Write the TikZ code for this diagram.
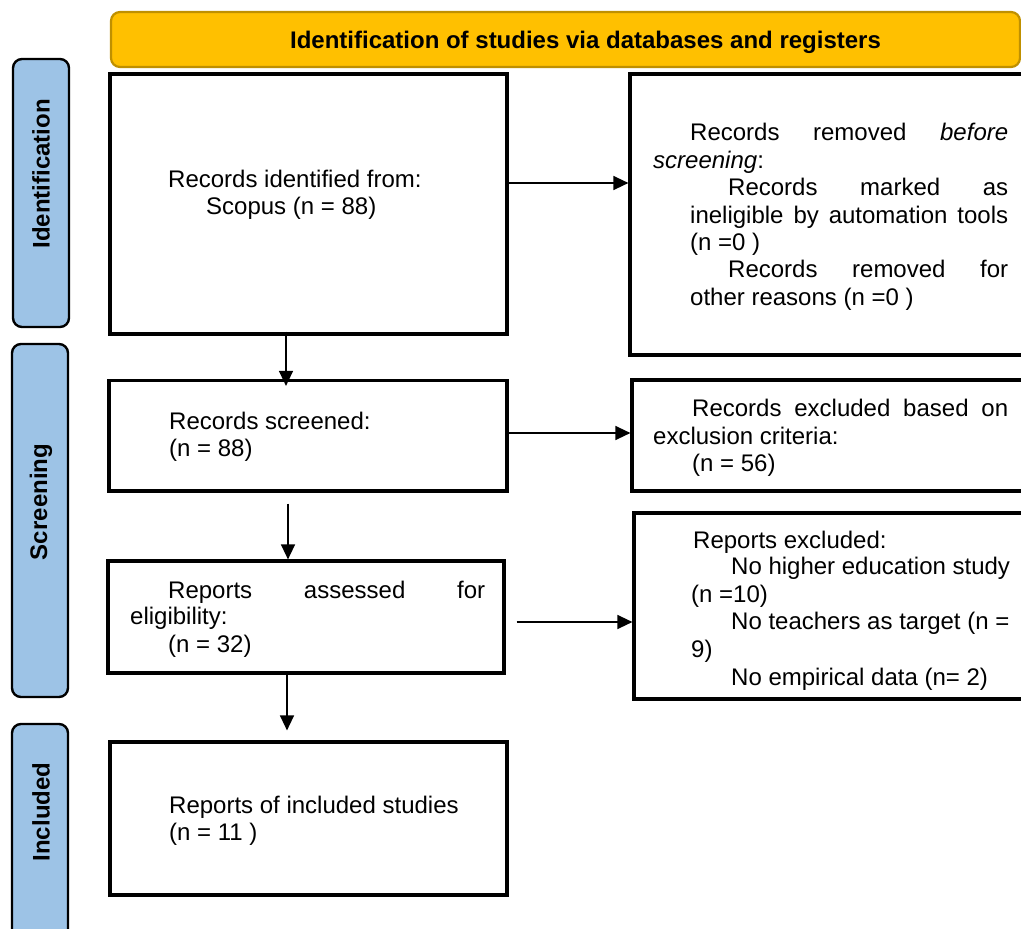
\documentclass[tikz,border=0pt]{standalone}
\usepackage{fontspec}
\setmainfont{Liberation Sans}
\usetikzlibrary{arrows.meta}
\definecolor{headfill}{HTML}{FFC000}
\definecolor{headborder}{HTML}{BF9000}
\definecolor{sideblue}{HTML}{9DC3E6}
\begin{document}
\begin{tikzpicture}[x=1pt,y=-1pt,
  box/.style={draw=black, line width=3.2pt, rectangle, inner sep=0pt},
  side/.style={draw=black, line width=2.4pt, fill=sideblue, rounded corners=9pt, rectangle, inner sep=0pt},
  head/.style={draw=headborder, line width=2.2pt, fill=headfill, rounded corners=9pt, rectangle, inner sep=0pt},
  txt/.style={anchor=base west, inner sep=0pt, font=\fontsize{24}{27.5}\selectfont},
  sidetxt/.style={anchor=center, inner sep=0pt, rotate=90, font=\fontsize{24}{27.5}\selectfont\bfseries},
  arr/.style={line width=1.4pt, -{Triangle[length=15pt,width=14pt]}}]
\useasboundingbox (0,0) rectangle (1021,929);
\clip (0,0) rectangle (1021,929);

% header
\node[head, minimum width=909pt, minimum height=55pt] (hd) at (565.5,39.5) {};
\node[anchor=base, inner sep=0pt, font=\fontsize{24}{27.5}\selectfont\bfseries] (hdt) at (585.5,48) {Identification of studies via databases and registers};

% side labels
\node[side, minimum width=56pt, minimum height=268pt] (s1) at (41,193) {};
\node[sidetxt] (s1t) at (41,174) {Identification};
\node[side, minimum width=56pt, minimum height=353pt] (s2) at (40,520.5) {};
\node[sidetxt] (s2t) at (41,502) {Screening};
\node[side, minimum width=56pt, minimum height=226pt] (s3) at (40,837) {};
\node[sidetxt] (s3t) at (41,812) {Included};

% left boxes
\node[box, minimum width=397pt, minimum height=260pt] (b1) at (308.5,204) {};
\node[box, minimum width=398pt, minimum height=110.5pt] (b2) at (308,435.75) {};
\node[box, minimum width=396pt, minimum height=112pt] (b3) at (306,617) {};
\node[box, minimum width=397pt, minimum height=153pt] (b4) at (308.5,818.5) {};

% right boxes
\node[box, minimum width=410pt, minimum height=281pt] (r1) at (835,214.5) {};
\node[box, minimum width=408pt, minimum height=111pt] (r2) at (836,435.5) {};
\node[box, minimum width=406pt, minimum height=186pt] (r3) at (837,606) {};

% texts box 1
\node[txt] (b1a) at (168,187) {Records identified from:};
\node[txt] (b1b) at (206,214) {Scopus (n = 88)};
% texts r1
\node[txt] (r1a) at (690,140) {\makebox[318pt][s]{Records removed \textit{before}}};
\node[txt] (r1b) at (653,168) {\textit{screening}:};
\node[txt] (r1c) at (728,195) {\makebox[280pt][s]{Records marked as}};
\node[txt] (r1d) at (690,223) {\makebox[318pt][s]{ineligible by automation tools}};
\node[txt] (r1e) at (690,250) {(n =0 )};
\node[txt] (r1f) at (728,277) {\makebox[280pt][s]{Records removed for}};
\node[txt] (r1g) at (690,305) {other reasons (n =0 )};
% texts box 2
\node[txt] (b2a) at (169,429) {Records screened:};
\node[txt] (b2b) at (169,456) {(n = 88)};
% texts r2
\node[txt] (r2a) at (692,416) {\makebox[316pt][s]{Records excluded based on}};
\node[txt] (r2b) at (653,444) {exclusion criteria:};
\node[txt] (r2c) at (692,471) {(n = 56)};
% texts box 3
\node[txt] (b3a) at (168,598) {\makebox[317pt][s]{Reports assessed for}};
\node[txt] (b3b) at (130,624) {eligibility:};
\node[txt] (b3c) at (168,652) {(n = 32)};
% texts r3
\node[txt] (r3a) at (693,548) {Reports excluded:};
\node[txt] (r3b) at (731,574) {No higher education study};
\node[txt] (r3c) at (691,602) {(n =10)};
\node[txt] (r3d) at (731,629) {No teachers as target (n =};
\node[txt] (r3e) at (691,657) {9)};
\node[txt] (r3f) at (731,685) {No empirical data (n= 2)};
% texts box 4
\node[txt] (b4a) at (169,813) {Reports of included studies};
\node[txt] (b4b) at (169,840) {(n = 11 )};

% connectors
\coordinate (a1s) at ([yshift=21pt]b1.east);
\draw[arr] (a1s) -- (a1s -| r1.west);
\coordinate (a2s) at ([xshift=-22.5pt,yshift=4pt]b1.south);
\draw[arr,shorten >=-7pt] (a2s) -- (a2s |- b2.north);
\coordinate (a3s) at ([yshift=2.75pt]b2.east);
\draw[arr] (a3s) -- (a3s -| r2.west);
\coordinate (a4s) at ([xshift=-20pt,yshift=-11pt]b2.south);
\draw[arr] (a4s) -- (a4s |- b3.north);
\coordinate (a5s) at ([xshift=11pt,yshift=-5pt]b3.east);
\draw[arr] (a5s) -- (a5s -| r3.west);
\coordinate (a6s) at ([xshift=-19pt]b3.south);
\draw[arr,shorten >=10pt] (a6s) -- (a6s |- b4.north);
\end{tikzpicture}
\end{document}
